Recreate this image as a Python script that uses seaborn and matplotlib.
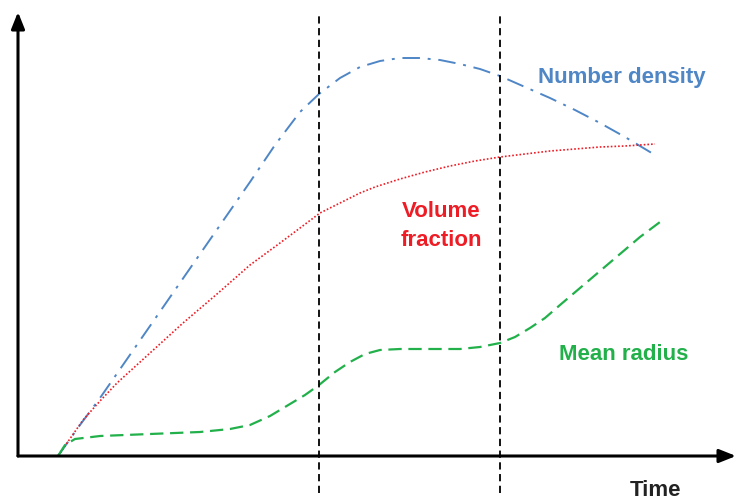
import numpy as np
import pandas as pd
import seaborn as sns
import matplotlib.pyplot as plt

sns.set_style("white")
plt.rcParams['font.family'] = ['Liberation Sans', 'DejaVu Sans']

# values (time vs. quantity, arbitrary units)
t_number = [40, 62, 82, 107, 132, 157, 182, 207, 232, 257, 282, 301, 322, 342, 362,
            382, 402, 422, 442, 462, 482, 507, 532, 557, 582, 607, 637]
number_density = [0, 31, 58, 94, 130, 166, 202, 238, 274, 311, 344, 362, 378, 389, 395,
                  398, 398, 396, 392, 387, 380, 369, 358, 346, 333, 319, 301]

t_volume = [40, 65, 82, 99, 132, 165, 199, 232, 262, 282, 302, 322, 342, 357, 382,
            407, 432, 457, 482, 507, 532, 557, 582, 607, 637]
volume_fraction = [0, 36, 55, 73, 103, 133, 162, 191, 213, 228, 243, 253, 263, 269, 277,
                   284, 290, 295, 299, 302, 305, 307, 309, 310, 312]

t_radius = [40, 47, 57, 82, 132, 182, 212, 232, 252, 272, 287, 301, 317, 332, 347,
            362, 382, 412, 442, 462, 482, 497, 512, 527, 542, 562, 582, 602, 622, 642]
mean_radius = [0, 11, 17, 20, 22, 24, 27, 31, 40, 52, 61, 71, 84, 94, 102,
               106, 107, 107, 107, 109, 113, 119, 128, 138, 151, 168, 185, 202, 219, 234]

phase_bounds = [301, 482]

df = pd.concat([
    pd.DataFrame({"t": t_number, "v": number_density, "q": "Number density"}),
    pd.DataFrame({"t": t_volume, "v": volume_fraction, "q": "Volume fraction"}),
    pd.DataFrame({"t": t_radius, "v": mean_radius, "q": "Mean radius"}),
])

blue = "#4f86c6"
red = "#ee1c25"
green = "#22b04b"

fig = plt.figure(figsize=(7.36, 4.99), dpi=100)
ax = fig.add_axes([0, 0, 1, 1])

sns.lineplot(data=df[df.q == "Number density"], x="t", y="v", color=blue,
             lw=1.4, ax=ax, estimator=None, sort=False)
ax.lines[-1].set_linestyle((0, (9, 4, 1.5, 4)))
sns.lineplot(data=df[df.q == "Volume fraction"], x="t", y="v", color=red,
             lw=1.2, ax=ax, estimator=None, sort=False)
ax.lines[-1].set_linestyle((0, (1, 1.2)))
sns.lineplot(data=df[df.q == "Mean radius"], x="t", y="v", color=green,
             lw=1.6, ax=ax, estimator=None, sort=False)
ax.lines[-1].set_linestyle((0, (6, 3)))

# phase boundaries
for b in phase_bounds:
    ax.plot([b, b], [-37, 444], color="black", lw=1.3, ls=(0, (4, 2.5)))

# axes with arrows
ax.annotate("", xy=(718, 0), xytext=(0, 0),
            arrowprops=dict(arrowstyle="-|>,head_length=1.0,head_width=0.4",
                            color="black", lw=2.2, shrinkA=0, shrinkB=0))
ax.annotate("", xy=(0, 444), xytext=(0, 0),
            arrowprops=dict(arrowstyle="-|>,head_length=1.0,head_width=0.4",
                            color="black", lw=2.2, shrinkA=0, shrinkB=0))

ax.text(604, 379, "Number density", color=blue, fontsize=16, fontweight="bold",
        ha="center", va="center")
ax.text(423, 230, "Volume\nfraction", color=red, fontsize=16, fontweight="bold",
        ha="center", va="center", linespacing=1.45)
ax.text(606, 102, "Mean radius", color=green, fontsize=16, fontweight="bold",
        ha="center", va="center")
ax.text(638, -34, "Time", color="#222222", fontsize=16, fontweight="bold",
        ha="center", va="center")

ax.set_xlim(-18, 718)
ax.set_ylim(-43, 456)
ax.set_axis_off()

fig.savefig("out.png", dpi=100)
